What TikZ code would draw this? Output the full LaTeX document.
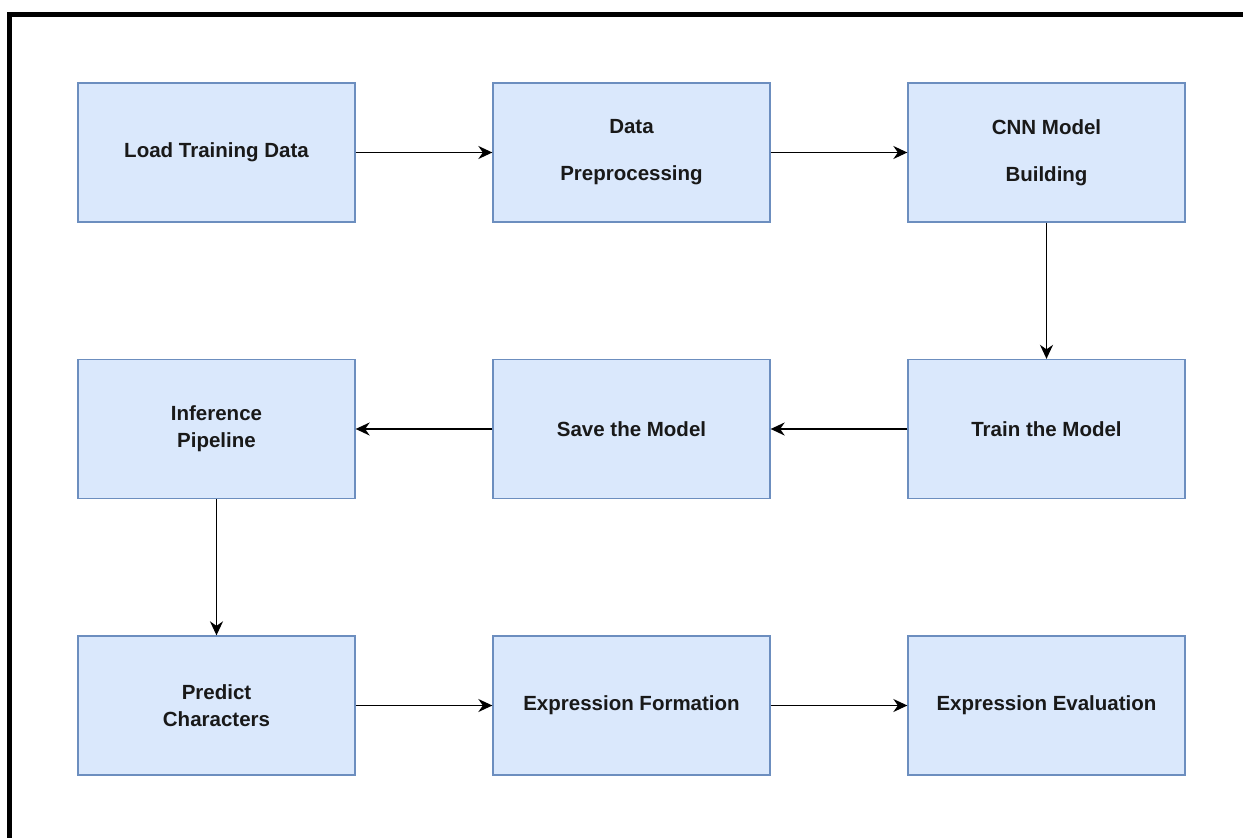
\documentclass[tikz,border=0pt]{standalone}
\usepackage{fontspec}
\setmainfont{Liberation Sans}
\usetikzlibrary{arrows.meta}
\definecolor{boxfill}{HTML}{DAE8FC}
\definecolor{boxline}{HTML}{6C8EBF}
\begin{document}
\begin{tikzpicture}[x=1pt,y=-1pt,
  stage/.style={draw=boxline,fill=boxfill,line width=1.3pt,minimum width=277pt,minimum height=139pt,
    inner sep=0pt,align=center,font=\fontsize{20.5}{27}\selectfont\bfseries,text=black!90},
  flow/.style={line width=1.6pt,-{Stealth[length=14pt,width=13pt,inset=4.5pt]}}]
\useasboundingbox (0,0) rectangle (1243,838);
\fill[white] (0,0) rectangle (1243,838);
\draw[line width=5.5pt,line cap=butt] (9.5,838) -- (9.5,14.5) -- (1243,14.5);
\node[stage] (load) at (216.5,152.5) {Load Training Data};
\node[stage] (prep) at (631.5,152.5) {Data\\[20pt]Preprocessing};
\node[stage] (cnn) at (1046.5,152.5) {CNN Model\\[20pt]Building};
\node[stage] (train) at (1046.5,429) {Train the Model};
\node[stage] (save) at (631.5,429) {Save the Model};
\node[stage] (infer) at (216.5,429) {Inference\\Pipeline};
\node[stage] (pred) at (216.5,705.5) {Predict\\Characters};
\node[stage] (form) at (631.5,705.5) {Expression Formation};
\node[stage] (eval) at (1046.5,705.5) {Expression Evaluation};
\draw[flow] (load) -- (prep);
\draw[flow] (prep) -- (cnn);
\draw[flow] (cnn) -- (train);
\draw[flow] (train) -- (save);
\draw[flow] (save) -- (infer);
\draw[flow] (infer) -- (pred);
\draw[flow] (pred) -- (form);
\draw[flow] (form) -- (eval);
\end{tikzpicture}
\end{document}
